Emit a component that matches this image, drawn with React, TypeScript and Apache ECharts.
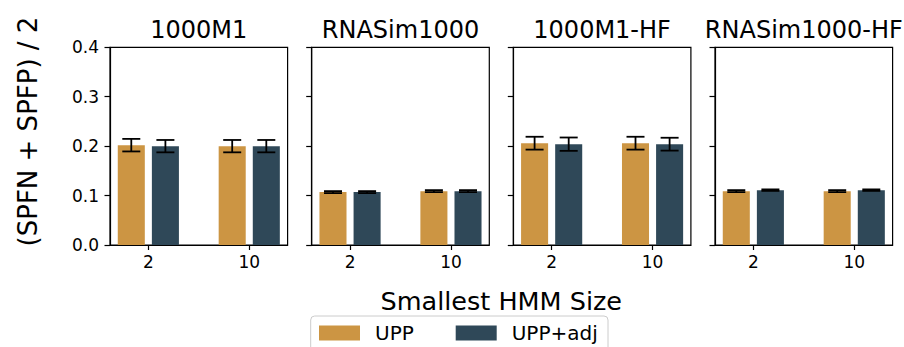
import React, { useEffect, useRef } from "react";
import * as echarts from "echarts";

// Datasets (one panel each) and the HMM sizes on each x axis
const datasets = ["1000M1", "RNASim1000", "1000M1-HF", "RNASim1000-HF"];
const hmmSizes = ["2", "10"];

// Mean (SPFN + SPFP) / 2 per dataset, per HMM size
const uppMean = [
  [0.202, 0.2],
  [0.107, 0.109],
  [0.206, 0.206],
  [0.109, 0.109],
];
const uppErr = [
  [0.0127, 0.0125],
  [0.002, 0.002],
  [0.013, 0.013],
  [0.002, 0.002],
];
const adjMean = [
  [0.2, 0.2],
  [0.107, 0.109],
  [0.204, 0.204],
  [0.111, 0.111],
];
const adjErr = [
  [0.0125, 0.0125],
  [0.002, 0.002],
  [0.0135, 0.013],
  [0.0015, 0.0015],
];

const yTicks = [0, 0.1, 0.2, 0.3, 0.4];

const UPP_COLOR = "#cc9543";
const ADJ_COLOR = "#2f4858";
const FONT = '"DejaVu Sans", "Liberation Sans", sans-serif';

const PANEL_LEFT = [110, 311.7, 513.3, 715];
const PANEL_TOP = 47.3;
const PANEL_W = 177.6;
const PANEL_H = 197.7;

const BAR_W = 0.268; // in x-axis units
const BAR_OFFSET = 0.169;
const CAP_HALF = 9;

function makeRenderItem(offset: number) {
  return (params: any, api: any) => {
    const x = api.value(0);
    const m = api.value(1);
    const e = api.value(2);
    const unit = api.size([1, 0])[0];
    const base = api.coord([x, 0]);
    const top = api.coord([x, m]);
    const cx = base[0] + offset * unit;
    const w = BAR_W * unit;
    const hi = api.coord([x, m + e])[1];
    const lo = api.coord([x, m - e])[1];
    const color = api.visual("color");
    const lineStyle = { stroke: "#000", lineWidth: 1.8 };
    return {
      type: "group",
      children: [
        {
          type: "rect",
          shape: { x: cx - w / 2, y: top[1], width: w, height: base[1] - top[1] },
          style: { fill: color },
        },
        { type: "line", shape: { x1: cx, y1: hi, x2: cx, y2: lo }, style: lineStyle },
        { type: "line", shape: { x1: cx - CAP_HALF, y1: hi, x2: cx + CAP_HALF, y2: hi }, style: lineStyle },
        { type: "line", shape: { x1: cx - CAP_HALF, y1: lo, x2: cx + CAP_HALF, y2: lo }, style: lineStyle },
      ],
    };
  };
}

export default function App() {
  const ref = useRef<HTMLDivElement>(null);

  useEffect(() => {
    if (!ref.current) return;
    const chart = echarts.init(ref.current, null, { renderer: "svg" });

    const grid = datasets.map((_, i) => ({
      left: PANEL_LEFT[i],
      top: PANEL_TOP,
      width: PANEL_W,
      height: PANEL_H,
      show: true,
      borderColor: "#000",
      borderWidth: 1.2,
      backgroundColor: "transparent",
    }));

    const xAxis = datasets.map((_, i) => ({
      type: "value",
      gridIndex: i,
      min: -0.38,
      max: 1.38,
      splitLine: { show: false },
      axisLine: { show: true, onZero: false, lineStyle: { color: "#000", width: 1.2 } },
      axisTick: {
        show: true,
        customValues: [0, 1],
        length: 5,
        lineStyle: { color: "#000", width: 1.2 },
      },
      axisLabel: {
        customValues: [0, 1],
        formatter: (v: number) => hmmSizes[Math.round(v)] ?? "",
        fontSize: 17,
        fontFamily: FONT,
        color: "#000",
        margin: 8,
      },
    }));

    const yAxis = datasets.map((_, i) => ({
      type: "value",
      gridIndex: i,
      min: yTicks[0],
      max: yTicks[yTicks.length - 1],
      interval: 0.1,
      splitLine: { show: false },
      axisLine: { show: true, onZero: false, lineStyle: { color: "#000", width: 1.2 } },
      axisTick: { show: true, length: 5.5, lineStyle: { color: "#000", width: 1.2 } },
      axisLabel: {
        show: i === 0,
        formatter: (v: number) => v.toFixed(1),
        fontSize: 17,
        fontFamily: FONT,
        color: "#000",
        margin: 11,
      },
    }));

    const series: any[] = [];
    datasets.forEach((_, i) => {
      series.push({
        type: "custom",
        name: "UPP",
        xAxisIndex: i,
        yAxisIndex: i,
        itemStyle: { color: UPP_COLOR },
        encode: { x: 0, y: 1 },
        renderItem: makeRenderItem(-BAR_OFFSET),
        data: hmmSizes.map((_, j) => [j, uppMean[i][j], uppErr[i][j]]),
      });
      series.push({
        type: "custom",
        name: "UPP+adj",
        xAxisIndex: i,
        yAxisIndex: i,
        itemStyle: { color: ADJ_COLOR },
        encode: { x: 0, y: 1 },
        renderItem: makeRenderItem(BAR_OFFSET),
        data: hmmSizes.map((_, j) => [j, adjMean[i][j], adjErr[i][j]]),
      });
    });

    const legendCommon = {
      top: 323,
      padding: 0,
      itemWidth: 41,
      itemHeight: 15,
      icon: "rect",
      textStyle: { fontSize: 20, fontFamily: FONT, color: "#000", padding: [0, 0, 0, 10] },
    };

    const titles = datasets.map((d, i) => ({
      type: "text",
      x: PANEL_LEFT[i] + PANEL_W / 2,
      y: 30,
      style: {
        text: d,
        fontSize: 24,
        fontFamily: FONT,
        fill: "#000",
        textAlign: "center",
        textVerticalAlign: "middle",
      },
    }));

    chart.setOption({
      animation: false,
      grid,
      xAxis,
      yAxis,
      series,
      legend: [
        { ...legendCommon, left: 319, data: ["UPP"] },
        { ...legendCommon, left: 455.7, data: ["UPP+adj"] },
      ],
      graphic: [
        ...titles,
        {
          type: "text",
          x: 28,
          y: 131.5,
          rotation: Math.PI / 2,
          style: {
            text: "(SPFN + SPFP) / 2",
            fontSize: 26,
            fontFamily: FONT,
            fill: "#000",
            textAlign: "center",
            textVerticalAlign: "middle",
          },
        },
        {
          type: "text",
          x: PANEL_LEFT[0] + (PANEL_LEFT[3] + PANEL_W - PANEL_LEFT[0]) / 2,
          y: 301,
          style: {
            text: "Smallest HMM Size",
            fontSize: 25.5,
            fontFamily: FONT,
            fill: "#000",
            textAlign: "center",
            textVerticalAlign: "middle",
          },
        },
        {
          type: "rect",
          z: -1,
          shape: { x: 310.7, y: 316, width: 297.3, height: 50, r: 4 },
          style: { fill: "#fff", stroke: "#cccccc", lineWidth: 1 },
        },
      ],
    });

    return () => chart.dispose();
  }, []);

  return (
    <div
      ref={ref}
      style={{ position: "absolute", left: 0, top: 0, width: 904, height: 347, background: "#fff" }}
    />
  );
}
